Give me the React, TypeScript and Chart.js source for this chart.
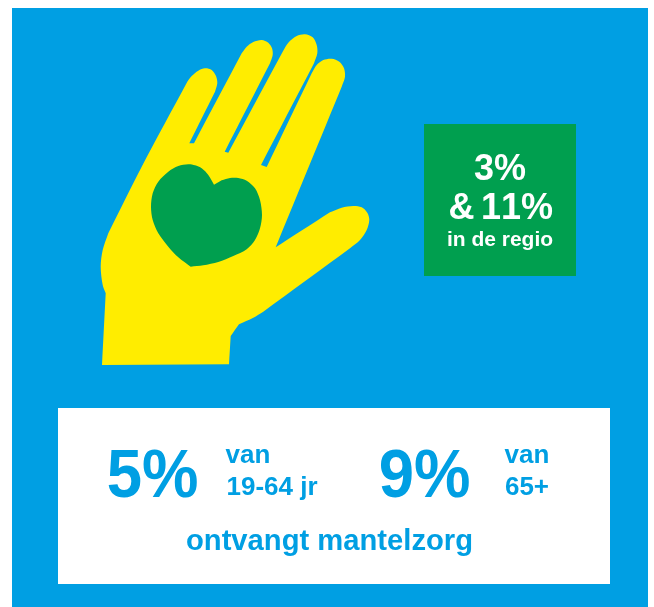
import React, { useEffect, useRef } from "react";
import { Chart, registerables } from "chart.js";

Chart.register(...registerables);

const WIDTH = 654;
const HEIGHT = 607;
const BLUE = "#009fe3";
const GREEN = "#009f4f";
const YELLOW = "#ffed00";
const WHITE = "#ffffff";

type Pair = [number, number];

const backgroundShape: Pair[] = [[12, 8], [648, 8], [648, 607], [12, 607]];
const whitePanel: Pair[] = [[58, 408], [610, 408], [610, 584], [58, 584]];
const greenPanel: Pair[] = [[424, 124], [576, 124], [576, 276], [424, 276]];

// A point listed twice is a sharp corner or the end of a straight edge.
const handOutline: Pair[] = [
  [102, 365], [105.7, 293.3], [105.7, 293.3], [102.7, 285], [100.7, 266.7], [102.7, 250], [108.3, 233.3], [108.3, 233.3],
  [141.7, 166.7], [187.3, 81.7], [187.3, 81.7], [191.7, 76], [198.3, 70.7], [205, 68.3], [211.7, 70],
  [216, 76], [217.3, 83.3], [215, 91.7], [215, 91.7], [189.3, 143.3], [189.3, 143.3], [194, 143.3], [194, 143.3], [241.7, 53.3], [241.7, 53.3],
  [246.7, 46.7], [253.3, 42], [261.7, 40], [268.3, 42.7], [272, 48.3], [272.7, 55],
  [270, 63.3], [270, 63.3], [224.7, 151.7], [224.7, 151.7], [228.3, 152.7], [228.3, 152.7], [282.7, 51.7], [282.7, 51.7], [288.3, 42.7], [296.7, 36],
  [305, 34.3], [312.7, 37.3], [316.7, 45], [317.3, 53.3], [314, 63.3], [314, 63.3], [261, 165], [261, 165],
  [266.7, 167], [266.7, 167], [311.7, 73.3], [311.7, 73.3], [316.7, 65], [323.3, 60], [331.7, 58.7], [339.3, 61.7],
  [344, 68.3], [345, 76.7], [341.7, 86.7], [341.7, 86.7], [275.7, 247.3], [275.7, 247.3], [330, 212.3], [330, 212.3], [341.7, 207.7],
  [353.3, 206], [361.7, 207.3], [367.3, 212.7], [369.3, 220], [366.7, 230], [360, 240],
  [350, 248.3], [350, 248.3], [263.3, 311.7], [263.3, 311.7], [253.3, 317.7], [239, 324.3], [239, 324.3], [230.7, 336], [230.7, 336], [229, 364.3],
];

const heartOutline: Pair[] = [
  [214, 184.7], [208.3, 175], [201.7, 168.3], [195, 165.3], [188.3, 164.3], [178.3, 166],
  [168.3, 171.7], [158.3, 181.7], [152.7, 193.3], [151, 206.7], [152.7, 220], [158.3, 233.3],
  [168.3, 246.7], [178.3, 257.3], [190.7, 266.7], [190.7, 266.7], [203.3, 265.3], [218.3, 262], [233.3, 256],
  [246.7, 249.3], [255, 240], [260, 228.3], [262, 215], [260, 200], [255, 188.3],
  [246.7, 180.7], [238.3, 178], [230, 178], [221.7, 180.3],
];

type Label = { text: string; x: number; y: number; size: number; color: string; stretch?: number };

const labels: Label[] = [
  { text: "3%", x: 500, y: 180, size: 36, color: WHITE },
  { text: "&", x: 461.5, y: 218.5, size: 36, color: WHITE },
  { text: "11%", x: 517, y: 218.5, size: 36, color: WHITE },
  { text: "in de regio", x: 500, y: 246, size: 21, color: WHITE },
  { text: "5%", x: 152.5, y: 496.5, size: 69, color: BLUE, stretch: 0.92 },
  { text: "van", x: 248, y: 463, size: 26, color: BLUE },
  { text: "19-64 jr", x: 272, y: 495, size: 26, color: BLUE },
  { text: "9%", x: 424.5, y: 496.5, size: 69, color: BLUE, stretch: 0.92 },
  { text: "van", x: 527, y: 463, size: 26, color: BLUE },
  { text: "65+", x: 527, y: 495, size: 26, color: BLUE },
  { text: "ontvangt mantelzorg", x: 329.5, y: 550, size: 29.2, color: BLUE },
];

const shape = (points: Pair[], color: string, tension = 0) => ({
  data: points.map(([x, y]) => ({ x, y })),
  showLine: true,
  fill: "shape",
  backgroundColor: color,
  borderWidth: 0,
  pointRadius: 0,
  tension,
  clip: false,
});

const textPlugin = {
  id: "infographicText",
  afterDatasetsDraw(chart: any) {
    const { ctx, scales } = chart;
    ctx.save();
    ctx.textAlign = "center";
    ctx.textBaseline = "alphabetic";
    ctx.fontKerning = "none";
    for (const l of labels) {
      const px = scales.x.getPixelForValue(l.x);
      const py = scales.y.getPixelForValue(l.y);
      ctx.font = `bold ${l.size}px "Liberation Sans", Arial, sans-serif`;
      ctx.fillStyle = l.color;
      ctx.save();
      ctx.translate(px, py);
      ctx.scale(l.stretch ?? 1, 1);
      ctx.fillText(l.text, 0, 0);
      ctx.restore();
    }
    ctx.restore();
  },
};

export default function App() {
  const ref = useRef<HTMLCanvasElement>(null);

  useEffect(() => {
    if (!ref.current) return;
    const chart = new Chart(ref.current, {
      type: "scatter",
      data: {
        datasets: [
          shape(heartOutline, GREEN, 0.3),
          shape(handOutline, YELLOW, 0.3),
          shape(greenPanel, GREEN),
          shape(whitePanel, WHITE),
          shape(backgroundShape, BLUE),
        ] as any,
      },
      options: {
        animation: false,
        responsive: false,
        layout: { padding: 0 },
        events: [],
        plugins: { legend: { display: false }, tooltip: { enabled: false } },
        scales: {
          x: { type: "linear", display: false, min: 0, max: WIDTH },
          y: { type: "linear", display: false, min: 0, max: HEIGHT, reverse: true },
        },
      },
      plugins: [textPlugin],
    });
    return () => chart.destroy();
  }, []);

  return (
    <div style={{ position: "absolute", left: 0, top: 0, width: WIDTH, height: HEIGHT }}>
      <canvas ref={ref} width={WIDTH} height={HEIGHT} style={{ display: "block" }} />
    </div>
  );
}
